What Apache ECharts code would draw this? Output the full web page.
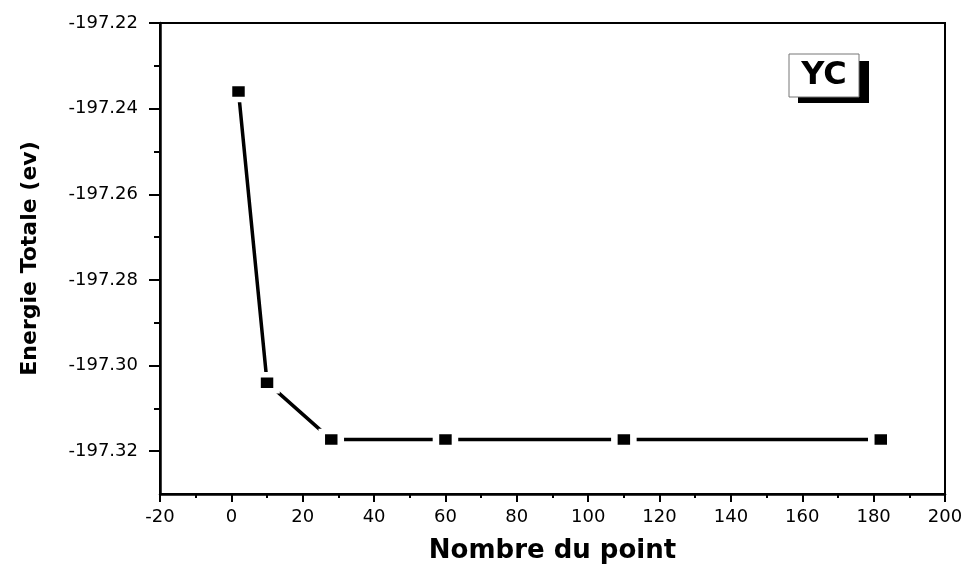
<!DOCTYPE html>
<html>
<head>
<meta charset="utf-8">
<script src="https://cdn.jsdelivr.net/npm/echarts@6/dist/echarts.min.js"></script>
<style>
  html, body { margin: 0; padding: 0; background: #fff; }
  #chart { width: 968px; height: 569px; }
</style>
</head>
<body>
<div id="chart"></div>
<script>
// Convergence of the total energy with the number of k-points (YC)
const kPoints = [2, 10, 28, 60, 110, 182];
const totalEnergy = [-197.236, -197.304, -197.3173, -197.3173, -197.3173, -197.3173];

const yMajorTicks = [-197.32, -197.30, -197.28, -197.26, -197.24, -197.22];
const yMinorTicks = [-197.31, -197.29, -197.27, -197.25, -197.23];
const xTitle = 'Nombre du point';
const yTitle = 'Energie Totale (ev)';
const tag = 'YC';

const labelFont = { fontFamily: 'DejaVu Sans', fontSize: 18, color: '#000' };
const titleFont = { fontFamily: 'DejaVu Sans', fontWeight: 'bold', color: '#000' };

const chart = echarts.init(document.getElementById('chart'), null, { renderer: 'canvas' });

chart.setOption({
  animation: false,
  backgroundColor: '#fff',
  grid: {
    left: 160, right: 23, top: 23, bottom: 71.5,
    show: true, borderColor: '#000', borderWidth: 2, backgroundColor: 'transparent'
  },
  xAxis: {
    type: 'value',
    min: -20, max: 200, interval: 20,
    name: xTitle,
    nameLocation: 'middle',
    nameGap: 44,
    nameTextStyle: Object.assign({ fontSize: 26 }, titleFont),
    axisLine: { show: true, onZero: false, lineStyle: { color: '#000', width: 2.5 } },
    axisTick: { show: true, inside: false, length: 8, lineStyle: { color: '#000', width: 2 } },
    minorTick: { show: true, splitNumber: 2, length: 4, lineStyle: { color: '#000', width: 2 } },
    axisLabel: Object.assign({ margin: 14 }, labelFont),
    splitLine: { show: false }
  },
  yAxis: [
    {
      type: 'value',
      min: -197.33, max: -197.22, interval: 0.01,
      name: yTitle,
      nameLocation: 'middle',
      nameRotate: 90,
      nameGap: 119,
      nameTextStyle: Object.assign({ fontSize: 22 }, titleFont),
      axisLine: { show: true, onZero: false, lineStyle: { color: '#000', width: 2.5 } },
      axisTick: { show: true, inside: false, length: 11, customValues: yMajorTicks,
                  lineStyle: { color: '#000', width: 2 } },
      axisLabel: Object.assign({ margin: 22, customValues: yMajorTicks,
                                 formatter: v => v.toFixed(2) }, labelFont),
      splitLine: { show: false }
    },
    {
      // minor ticks between the labelled values
      type: 'value',
      position: 'left',
      min: -197.33, max: -197.22, interval: 0.01,
      axisLine: { show: false, onZero: false },
      axisTick: { show: true, inside: false, length: 6, customValues: yMinorTicks,
                  lineStyle: { color: '#000', width: 2 } },
      axisLabel: { show: false },
      splitLine: { show: false }
    }
  ],
  series: [{
    type: 'line',
    yAxisIndex: 0,
    data: kPoints.map((k, i) => [k, totalEnergy[i]]),
    symbol: 'rect',
    symbolSize: [19, 16],
    showSymbol: true,
    lineStyle: { color: '#000', width: 3.5 },
    itemStyle: { color: '#000', borderColor: '#fff', borderWidth: 6 },
    emphasis: { disabled: true },
    z: 3
  }],
  graphic: [
    { type: 'rect', shape: { x: 798, y: 61, width: 71, height: 42 },
      style: { fill: '#000' }, z: 10 },
    { type: 'rect', shape: { x: 789, y: 54, width: 70, height: 43 },
      style: { fill: '#fff', stroke: '#777', lineWidth: 1 }, z: 11 },
    { type: 'text', x: 824, y: 76, z: 12,
      style: { text: tag, fill: '#000', align: 'center', verticalAlign: 'middle',
               font: 'bold 32px "DejaVu Sans"' } }
  ]
});
</script>
</body>
</html>
